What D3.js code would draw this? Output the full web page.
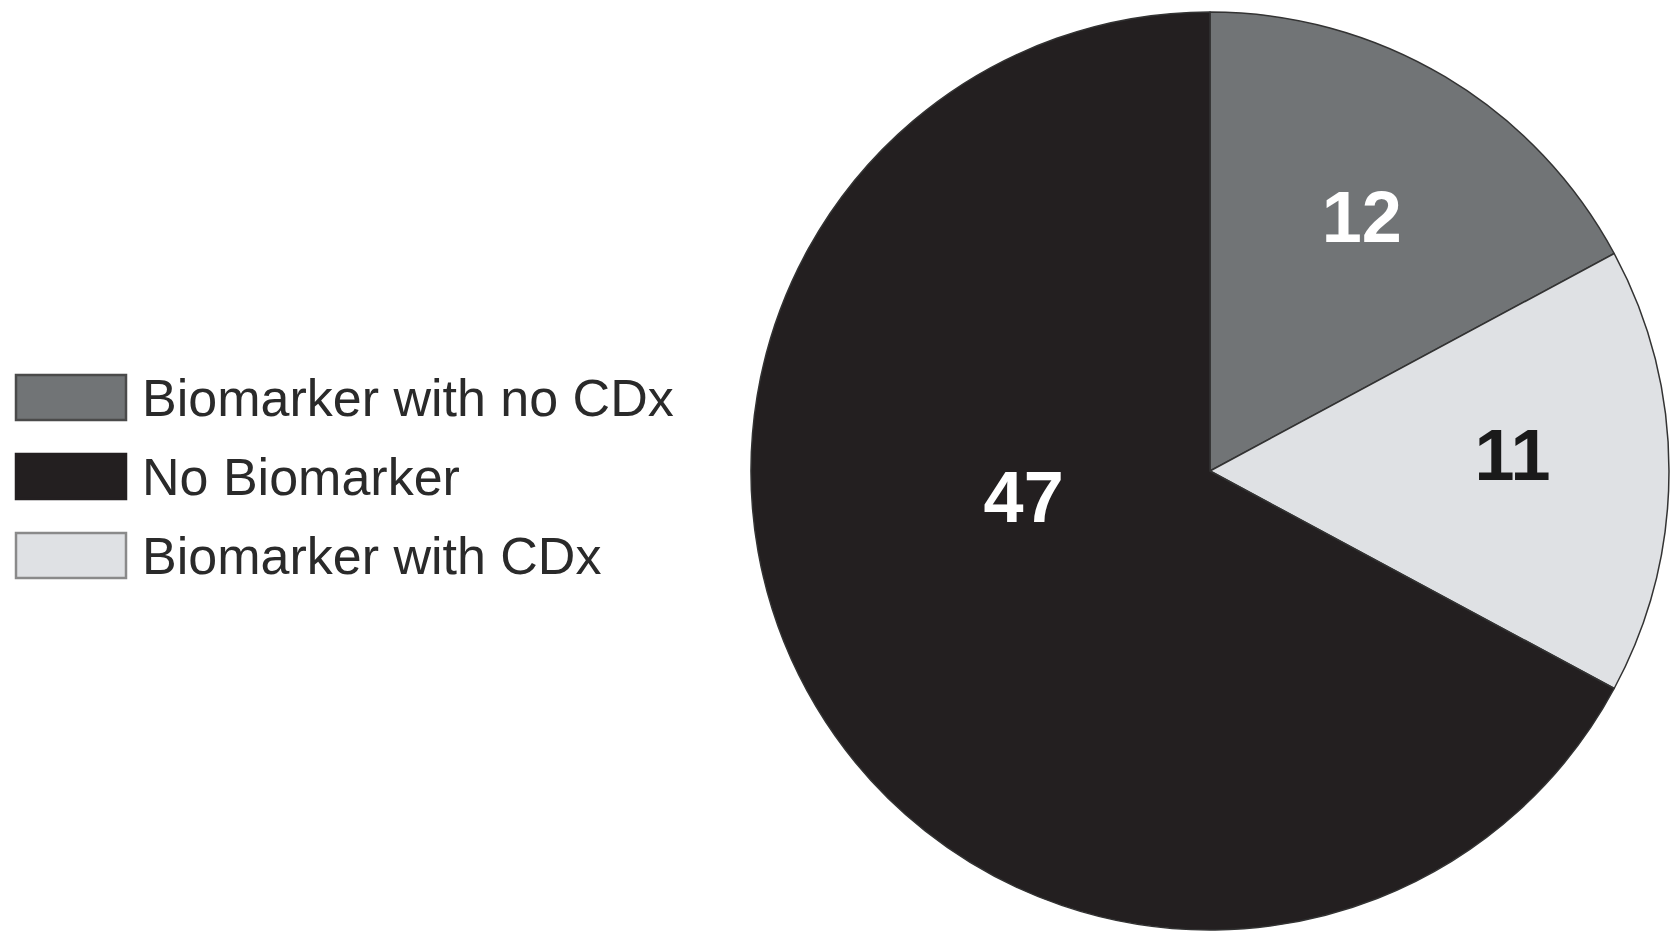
<!DOCTYPE html>
<html>
<head>
<meta charset="utf-8">
<script src="https://cdn.jsdelivr.net/npm/d3@7"></script>
<style>
  html, body { margin: 0; padding: 0; background: #fff; }
  svg { display: block; }
</style>
</head>
<body>
<svg id="chart" width="1673" height="933"></svg>
<script>
// Drug approvals grouped by biomarker status
const categories = ["Biomarker with no CDx", "Biomarker with CDx", "No Biomarker"];
const counts = [12, 11, 47];
const fills = ["#717476", "#dfe1e4", "#231f20"];
const labelColors = ["#ffffff", "#1a1a1a", "#ffffff"];
const legendOrder = ["Biomarker with no CDx", "No Biomarker", "Biomarker with CDx"];
const legendStrokes = ["#4a4a4a", "#231f20", "#8a8a8a"];

const svg = d3.select("#chart");
const cx = 1210, cy = 471, radius = 459;

const color = d3.scaleOrdinal().domain(categories).range(fills);
const textColor = d3.scaleOrdinal().domain(categories).range(labelColors);

const rows = categories.map((c, i) => ({ category: c, value: counts[i] }));

const pie = d3.pie().sort(null).value(d => d.value);
const arcs = pie(rows);
const arc = d3.arc().innerRadius(0).outerRadius(radius);

const g = svg.append("g").attr("transform", `translate(${cx},${cy})`);

g.selectAll("path.slice")
  .data(arcs)
  .enter().append("path")
  .attr("class", "slice")
  .attr("d", arc)
  .attr("fill", d => color(d.data.category))
  .attr("stroke", "#333333")
  .attr("stroke-width", 1.5)
  .attr("stroke-linejoin", "round");

// Label placement: radial distance as a fraction of the radius, plus an angle
// (degrees clockwise from 12 o'clock) where the label is not at the slice's mid-angle.
const labelRadius = [0.645, 0.66, 0.41];
const labelAngle = [null, 87, 262];

g.selectAll("text.value")
  .data(arcs)
  .enter().append("text")
  .attr("class", "value")
  .attr("transform", (d, i) => {
    const a = (labelAngle[i] != null ? labelAngle[i] : (d.startAngle + d.endAngle) / 2 * 180 / Math.PI) * Math.PI / 180;
    const r = radius * labelRadius[i];
    return `translate(${r * Math.sin(a)},${-r * Math.cos(a)})`;
  })
  .attr("text-anchor", "middle")
  .attr("dominant-baseline", "central")
  .attr("font-family", "Liberation Sans, Arial, Helvetica, sans-serif")
  .attr("font-weight", "bold")
  .attr("font-size", 72)
  .attr("fill", d => textColor(d.data.category))
  .text(d => d.data.value);

// Legend
const legend = svg.append("g").attr("transform", "translate(15,374)");
const legendY = d3.scalePoint().domain(legendOrder).range([0, 158]);

const item = legend.selectAll("g.item")
  .data(legendOrder)
  .enter().append("g")
  .attr("class", "item")
  .attr("transform", d => `translate(0,${legendY(d)})`);

item.append("rect")
  .attr("x", 1)
  .attr("y", 1)
  .attr("width", 110)
  .attr("height", 45)
  .attr("fill", d => color(d))
  .attr("stroke", (d, i) => legendStrokes[i])
  .attr("stroke-width", 2.5);

item.append("text")
  .attr("x", 127)
  .attr("y", 42)
  .attr("font-family", "Liberation Sans, Arial, Helvetica, sans-serif")
  .attr("font-size", 52)
  .attr("fill", "#2a2a2a")
  .text(d => d);
</script>
</body>
</html>
